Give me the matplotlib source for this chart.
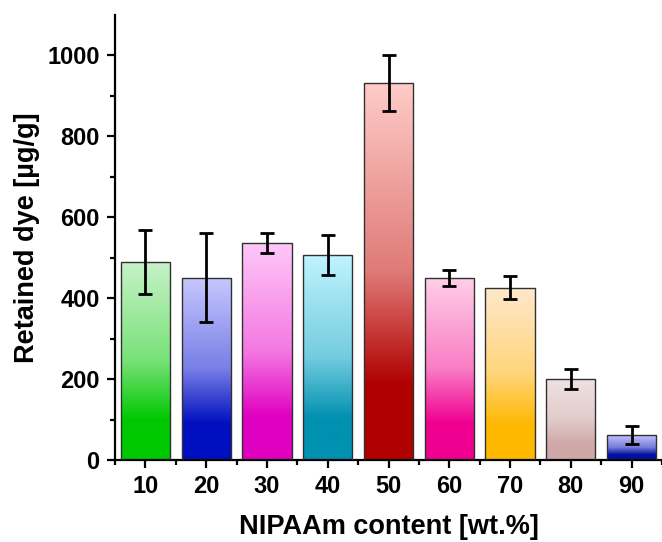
import numpy as np
import matplotlib.pyplot as plt
from matplotlib.colors import LinearSegmentedColormap, to_rgb

# data
content = [10, 20, 30, 40, 50, 60, 70, 80, 90]
retained = [490, 450, 536, 507, 932, 450, 426, 200, 62]
err = [79, 110, 25, 50, 70, 19, 28, 25, 22]

# gradient colours: (bottom, top)
bottom_colors = ["#00c800", "#0010c0", "#e000c0", "#0090b0", "#b00000",
                 "#f00090", "#ffb800", "#d0a8a8", "#0010a0"]
top_colors = ["#c8f2c8", "#c8c8ff", "#ffc8f8", "#c0f4ff", "#ffccc8",
              "#ffd0e8", "#ffe8cc", "#eee2e2", "#c8c8ff"]

plt.rcParams['font.family'] = ['Liberation Sans', 'DejaVu Sans']
plt.rcParams['font.weight'] = 'bold'

fig = plt.figure(figsize=(6.62, 5.42), dpi=100)
ax = fig.add_axes([115 / 662, 82 / 542, 547 / 662, 445 / 542])

bars = ax.bar(content, retained, width=8.1, color='none',
              edgecolor='#303030', linewidth=1.0, zorder=3)

grad = np.linspace(0, 1, 256).reshape(-1, 1)
for patch, c0, c1 in zip(bars.patches, bottom_colors, top_colors):
    a, b = np.array(to_rgb(c0)), np.array(to_rgb(c1))
    mid = a + 0.6 * (b - a)
    cmap = LinearSegmentedColormap.from_list(
        "g", [(0, c0), (0.2, c0), (0.5, mid), (1, c1)])
    x0, w, h = patch.get_x(), patch.get_width(), patch.get_height()
    im = ax.imshow(grad, cmap=cmap, origin='lower', aspect='auto',
                   extent=[x0, x0 + w, 0, h], zorder=2)
    im.set_clip_path(patch)

ax.errorbar(content, retained, yerr=err, fmt='none', ecolor='black',
            elinewidth=2.0, capsize=5, capthick=2.0, zorder=4)

ax.set_xlim(5, 95)
ax.set_ylim(0, 1100)
ax.set_xticks(content)
ax.set_xticks(np.arange(5, 100, 10), minor=True)
ax.set_yticks(np.arange(0, 1001, 200))
ax.set_yticks(np.arange(100, 1100, 200), minor=True)

for side in ['top', 'right']:
    ax.spines[side].set_visible(False)
for side in ['left', 'bottom']:
    ax.spines[side].set_linewidth(1.6)

ax.tick_params(which='major', direction='out', length=6, width=1.6,
               labelsize=17, pad=5)
ax.tick_params(which='minor', direction='out', length=3.5, width=1.6)

ax.set_xlabel("NIPAAm content [wt.%]", fontsize=19.5, fontweight='bold',
              labelpad=11)
ax.set_ylabel("Retained dye [\u00b5g/g]", fontsize=19.5, fontweight='bold',
              labelpad=5)

fig.savefig("out.png", dpi=100)
